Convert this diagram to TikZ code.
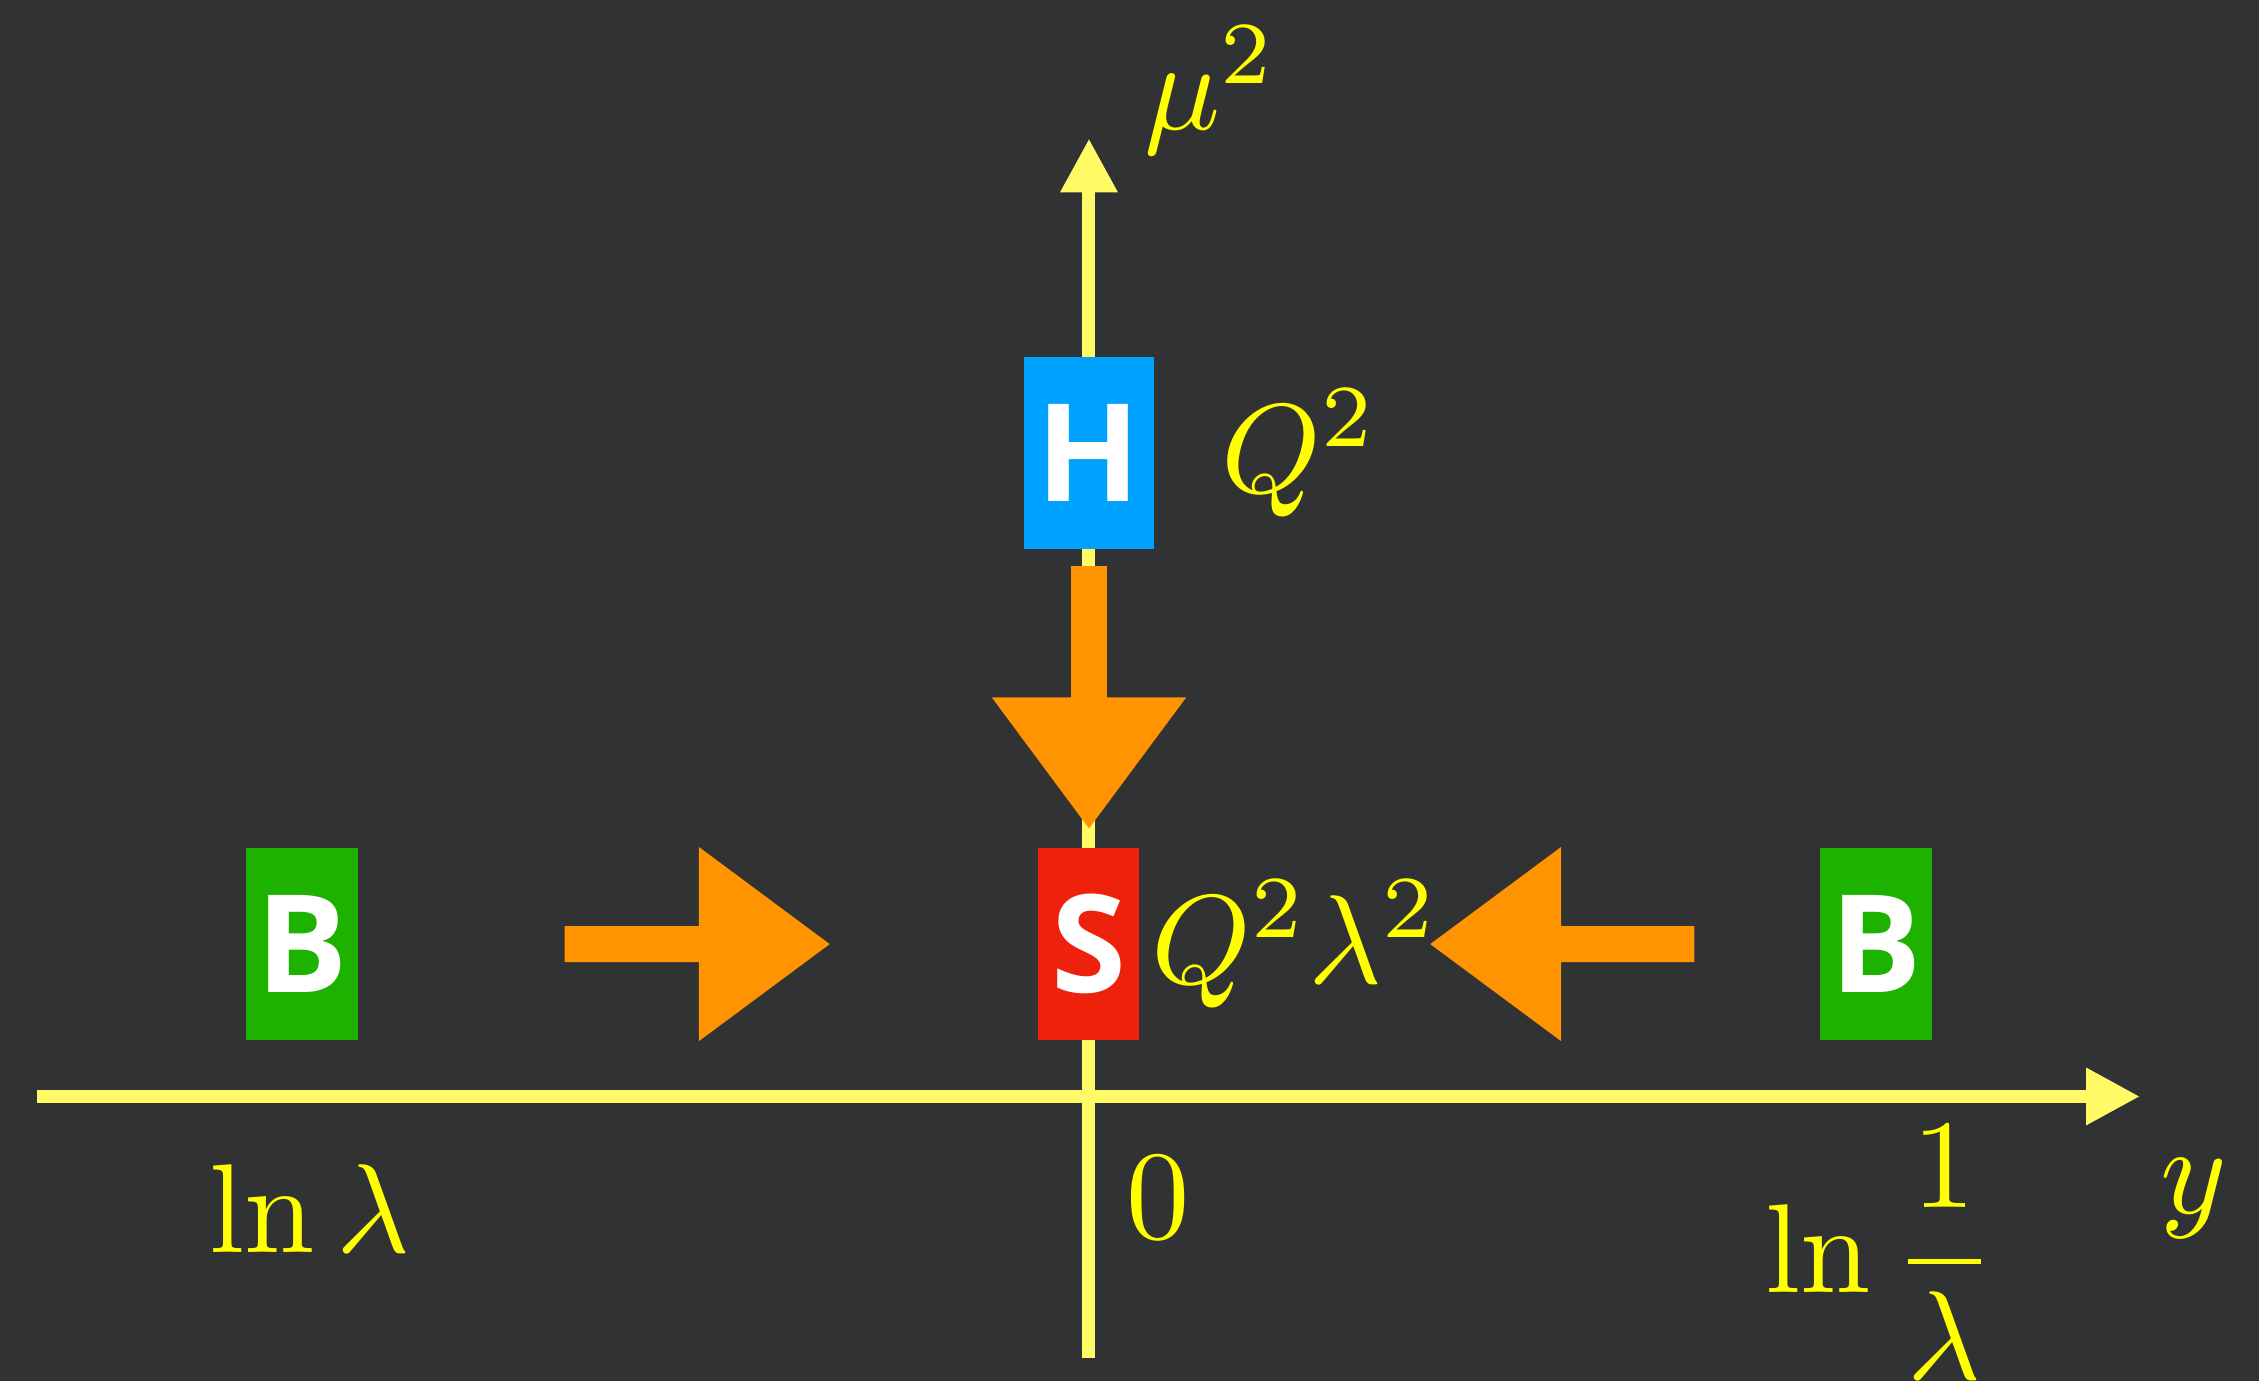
\documentclass[tikz,border=0pt]{standalone}
\usepackage{fontspec}
\newfontfamily\boxfont{Open Sans}
\usetikzlibrary{arrows.meta, positioning}

\definecolor{board}{RGB}{49,50,52}
\definecolor{axisyellow}{RGB}{255,250,102}
\definecolor{labelyellow}{RGB}{255,255,0}
\definecolor{hardblue}{RGB}{0,162,255}
\definecolor{softred}{RGB}{238,34,12}
\definecolor{beamgreen}{RGB}{29,177,0}
\definecolor{flow}{RGB}{255,147,0}

% labels are set at 10pt and blown up, like a slide
\newcommand{\chalk}[1]{\scalebox{3.6}{#1}}

\begin{document}
\begin{tikzpicture}[
    axis/.style={draw=axisyellow, line width=1.3mm, -{Triangle[length=5.4mm, width=5.4mm]}},
    flowarrow/.style={draw=flow, line width=3.6mm, -{Triangle[length=13.2mm, width=18.5mm]}},
    region/.style={rectangle, inner sep=0pt, minimum height=19.2mm, text=white, font=\boxfont\bfseries\fontsize{38.7}{46}\selectfont},
    lab/.style={inner sep=0pt, text=labelyellow},
]

% blackboard
\fill[board] (-10.89,-2.845) rectangle (11.70,10.965);
\useasboundingbox (-10.89,-2.845) rectangle (11.70,10.965);

% axes
\coordinate (yleft)    at (-10.52,0);
\coordinate (yright)   at (10.51,0);
\coordinate (mubottom) at (0,-2.62);
\coordinate (mutop)    at (0,9.58);
\draw[axis] (yleft) -- (yright);
\draw[axis] (mubottom) -- (mutop);

% modes
\node[region, fill=hardblue, minimum width=13mm]   (hard)   at (0,6.436)  {H};
\node[region, fill=softred, minimum width=10.1mm]  (soft)   at (0,1.523)  {S};
\node[region, fill=beamgreen, minimum width=11.2mm] (beamL) at (-7.87,1.525) {B};
\node[region, fill=beamgreen, minimum width=11.2mm] (beamR) at (7.87,1.525)  {B};

% scales
\node[lab, right=6.6mm of hard]  (hardscale) {\chalk{$Q^2$}};
\node[lab, right=1.1mm of soft]  (softscale) {\chalk{$Q^2\lambda^2$}};
\node[lab] (mulabel) at (1.22,10.06) {\chalk{$\mu^2$}};
\node[lab] (ylabel)  at (11.05,-1.02) {\chalk{$y$}};
\node[lab] (zero)    at (0.69,-1.01)  {\chalk{$0$}};
\node[lab, anchor=base west] (ymin) at (-8.80,-1.563) {\chalk{$\ln\lambda$}};
\node[lab, anchor=base west] (ymax) at (6.76,-1.963)  {\chalk{$\displaystyle\ln\frac{1}{\lambda}$}};

% evolution towards the soft scale
\draw[flowarrow, shorten <=1.6mm, shorten >=1.8mm] (hard) -- (soft);
\draw[flowarrow, shorten <=20.6mm, shorten >=20.7mm] (beamL) -- (soft);
\draw[flowarrow, shorten <=12.5mm, shorten >=28.9mm] (beamR) -- (soft);

\end{tikzpicture}
\end{document}
